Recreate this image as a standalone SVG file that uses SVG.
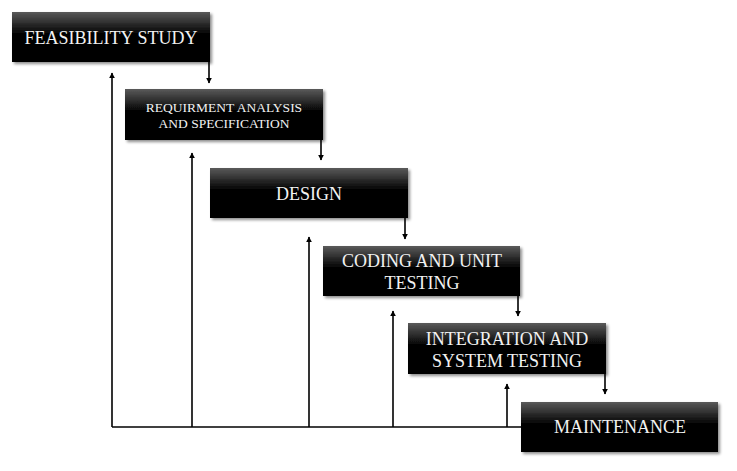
<svg xmlns="http://www.w3.org/2000/svg" width="737" height="471" viewBox="0 0 737 471">
<style>
.box{fill:url(#g);filter:url(#sh)}
.t{font-family:"Liberation Serif","Times New Roman",serif;fill:#f2f2f2;text-anchor:middle;font-size:18px}
.s{font-size:13.5px}
.c{stroke:#000;stroke-width:1.6;fill:none}
</style>
<defs>
<linearGradient id="g" x1="0" y1="0" x2="0" y2="1">
<stop offset="0" stop-color="#5a5a5a"/>
<stop offset="0.45" stop-color="#000"/>
<stop offset="1" stop-color="#000"/>
</linearGradient>
<filter id="sh" x="-5%" y="-10%" width="115%" height="130%">
<feGaussianBlur in="SourceAlpha" stdDeviation="1.5"/>
<feOffset dx="1.5" dy="2" result="b"/>
<feComponentTransfer><feFuncA type="linear" slope="0.45"/></feComponentTransfer>
<feMerge><feMergeNode/><feMergeNode in="SourceGraphic"/></feMerge>
</filter>
<marker id="a" viewBox="0 0 10 10" refX="9" refY="5" markerWidth="6" markerHeight="6" markerUnits="userSpaceOnUse" orient="auto">
<path d="M0,0 L10,5 L0,10 z" fill="#000"/>
</marker>
</defs>
<g id="connectors">
<path class="c" d="M209,62 V83" marker-end="url(#a)"/>
<path class="c" d="M321,140 V160" marker-end="url(#a)"/>
<path class="c" d="M405,218 V239" marker-end="url(#a)"/>
<path class="c" d="M518,296 V316" marker-end="url(#a)"/>
<path class="c" d="M605,374 V394" marker-end="url(#a)"/>
<path class="c" d="M521,427 H112"/>
<path class="c" d="M112,427 V73" marker-end="url(#a)"/>
<path class="c" d="M192,427 V153" marker-end="url(#a)"/>
<path class="c" d="M309,427 V237" marker-end="url(#a)"/>
<path class="c" d="M393,427 V311" marker-end="url(#a)"/>
<path class="c" d="M507,427 V384" marker-end="url(#a)"/>
</g>
<g id="feasibility">
<rect class="box" x="12" y="12" width="198" height="50"/>
<text class="t" x="111" y="44">FEASIBILITY STUDY</text>
</g>
<g id="requirement">
<rect class="box" x="125" y="89" width="198" height="51"/>
<text class="t s" x="224" y="112">REQUIRMENT ANALYSIS</text>
<text class="t s" x="224" y="128">AND SPECIFICATION</text>
</g>
<g id="design">
<rect class="box" x="210" y="168" width="198" height="50"/>
<text class="t" x="309" y="200">DESIGN</text>
</g>
<g id="coding">
<rect class="box" x="323" y="246" width="197" height="50"/>
<text class="t" x="422" y="267">CODING AND UNIT</text>
<text class="t" x="422" y="289">TESTING</text>
</g>
<g id="integration">
<rect class="box" x="408" y="323" width="198" height="51"/>
<text class="t" x="507" y="345">INTEGRATION AND</text>
<text class="t" x="507" y="367">SYSTEM TESTING</text>
</g>
<g id="maintenance">
<rect class="box" x="521" y="402" width="197" height="50"/>
<text class="t" x="620" y="433">MAINTENANCE</text>
</g>
</svg>
